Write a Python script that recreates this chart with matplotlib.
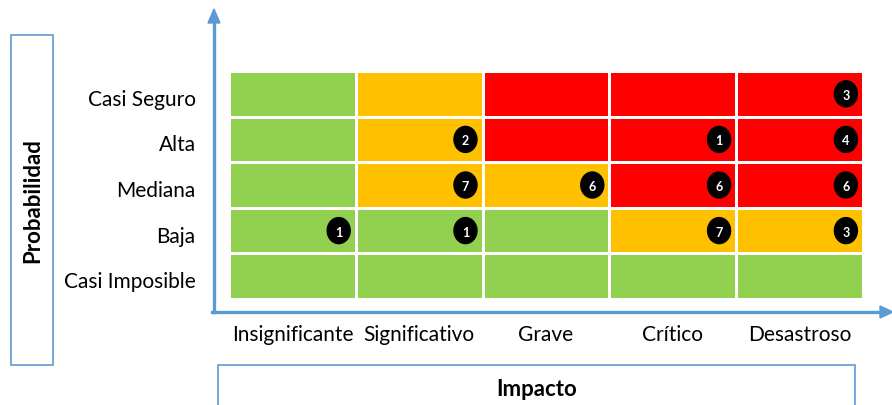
import numpy as np
import matplotlib.pyplot as plt
from matplotlib.colors import ListedColormap
from matplotlib.patches import Ellipse, Rectangle
from matplotlib.transforms import ScaledTranslation

plt.rcParams['font.family'] = ['Lato', 'DejaVu Sans']

# categories
impacto = ["Insignificante", "Significativo", "Grave", "Crítico", "Desastroso"]
probabilidad = ["Casi Seguro", "Alta", "Mediana", "Baja", "Casi Imposible"]

# risk level per cell (0 = green, 1 = orange, 2 = red), rows top to bottom
nivel = [
    [0, 1, 2, 2, 2],
    [0, 1, 2, 2, 2],
    [0, 1, 1, 2, 2],
    [0, 0, 0, 1, 1],
    [0, 0, 0, 0, 0],
]

# number of risks per cell (row, column, count)
riesgos_fila = [0, 1, 1, 1, 2, 2, 2, 2, 3, 3, 3, 3]
riesgos_col = [4, 1, 3, 4, 1, 2, 3, 4, 0, 1, 3, 4]
riesgos_num = [3, 2, 1, 4, 7, 6, 6, 6, 1, 1, 7, 3]

colores = ListedColormap(["#92D050", "#FFC000", "#FF0000"])
azul = "#5B9BD5"

W, H = 892, 406
fig = plt.figure(figsize=(W / 100, H / 100), dpi=100)

ax = fig.add_axes([229 / W, 1 - 300 / H, 634 / W, 228 / H])
ax.pcolormesh(np.array(nivel), cmap=colores, vmin=-0.5, vmax=2.5,
              edgecolor="white", linewidth=0.8)
ax.set_xlim(0, 5)
ax.set_ylim(5, 0)

ew = 23 / (634 / 5)
eh = 26 / (228 / 5)
for r, c, n in zip(riesgos_fila, riesgos_col, riesgos_num):
    ax.add_patch(Ellipse((c + 0.865, r + 0.5), ew, eh, color="black", zorder=3))
    ax.text(c + 0.865, r + 0.52, str(n), color="white", fontsize=9,
            fontweight="bold", ha="center", va="center", zorder=4)

ax.set_xticks(np.arange(5) + 0.5)
ax.set_xticklabels(impacto, fontsize=15)
ax.set_yticks(np.arange(5) + 0.5)
ax.set_yticklabels(probabilidad, fontsize=15, va="center")
ax.tick_params(length=0, pad=0)
ax.tick_params(axis="y", pad=24)
ax.tick_params(axis="x", pad=18)
bajar = ScaledTranslation(0, -5 / 100, fig.dpi_scale_trans)
for lbl in ax.get_yticklabels():
    lbl.set_transform(lbl.get_transform() + bajar)
for s in ax.spines.values():
    s.set_visible(False)

# axis arrows
fig.add_artist(plt.Line2D([214 / W, 214 / W], [1 - 313 / H, 1 - 22 / H],
                          color=azul, lw=2.4))
fig.add_artist(plt.Line2D([212 / W, 882 / W], [1 - 313 / H, 1 - 313 / H],
                          color=azul, lw=2.4))
fig.patches.append(plt.Polygon([[214 / W, 1 - 10 / H], [208 / W, 1 - 24 / H],
                                [220 / W, 1 - 24 / H]], closed=True,
                               color=azul, transform=fig.transFigure))
fig.patches.append(plt.Polygon([[893 / W, 1 - 313 / H], [880 / W, 1 - 307 / H],
                                [880 / W, 1 - 319 / H]], closed=True,
                               color=azul, transform=fig.transFigure))

# title boxes
fig.patches.append(Rectangle((11 / W, 1 - 366 / H), 42 / W, 330 / H,
                             fill=False, edgecolor=azul, lw=1.2,
                             transform=fig.transFigure))
fig.patches.append(Rectangle((218 / W, 1 - 420 / H), 637 / W, 54 / H,
                             fill=False, edgecolor=azul, lw=1.2,
                             transform=fig.transFigure))
fig.text(33 / W, 1 - 201 / H, "Probabilidad", rotation=90, fontsize=16,
         fontweight="bold", ha="center", va="center")
fig.text(537 / W, 1 - 390 / H, "Impacto", fontsize=16,
         fontweight="bold", ha="center", va="center")

fig.savefig("out.png", dpi=100)
